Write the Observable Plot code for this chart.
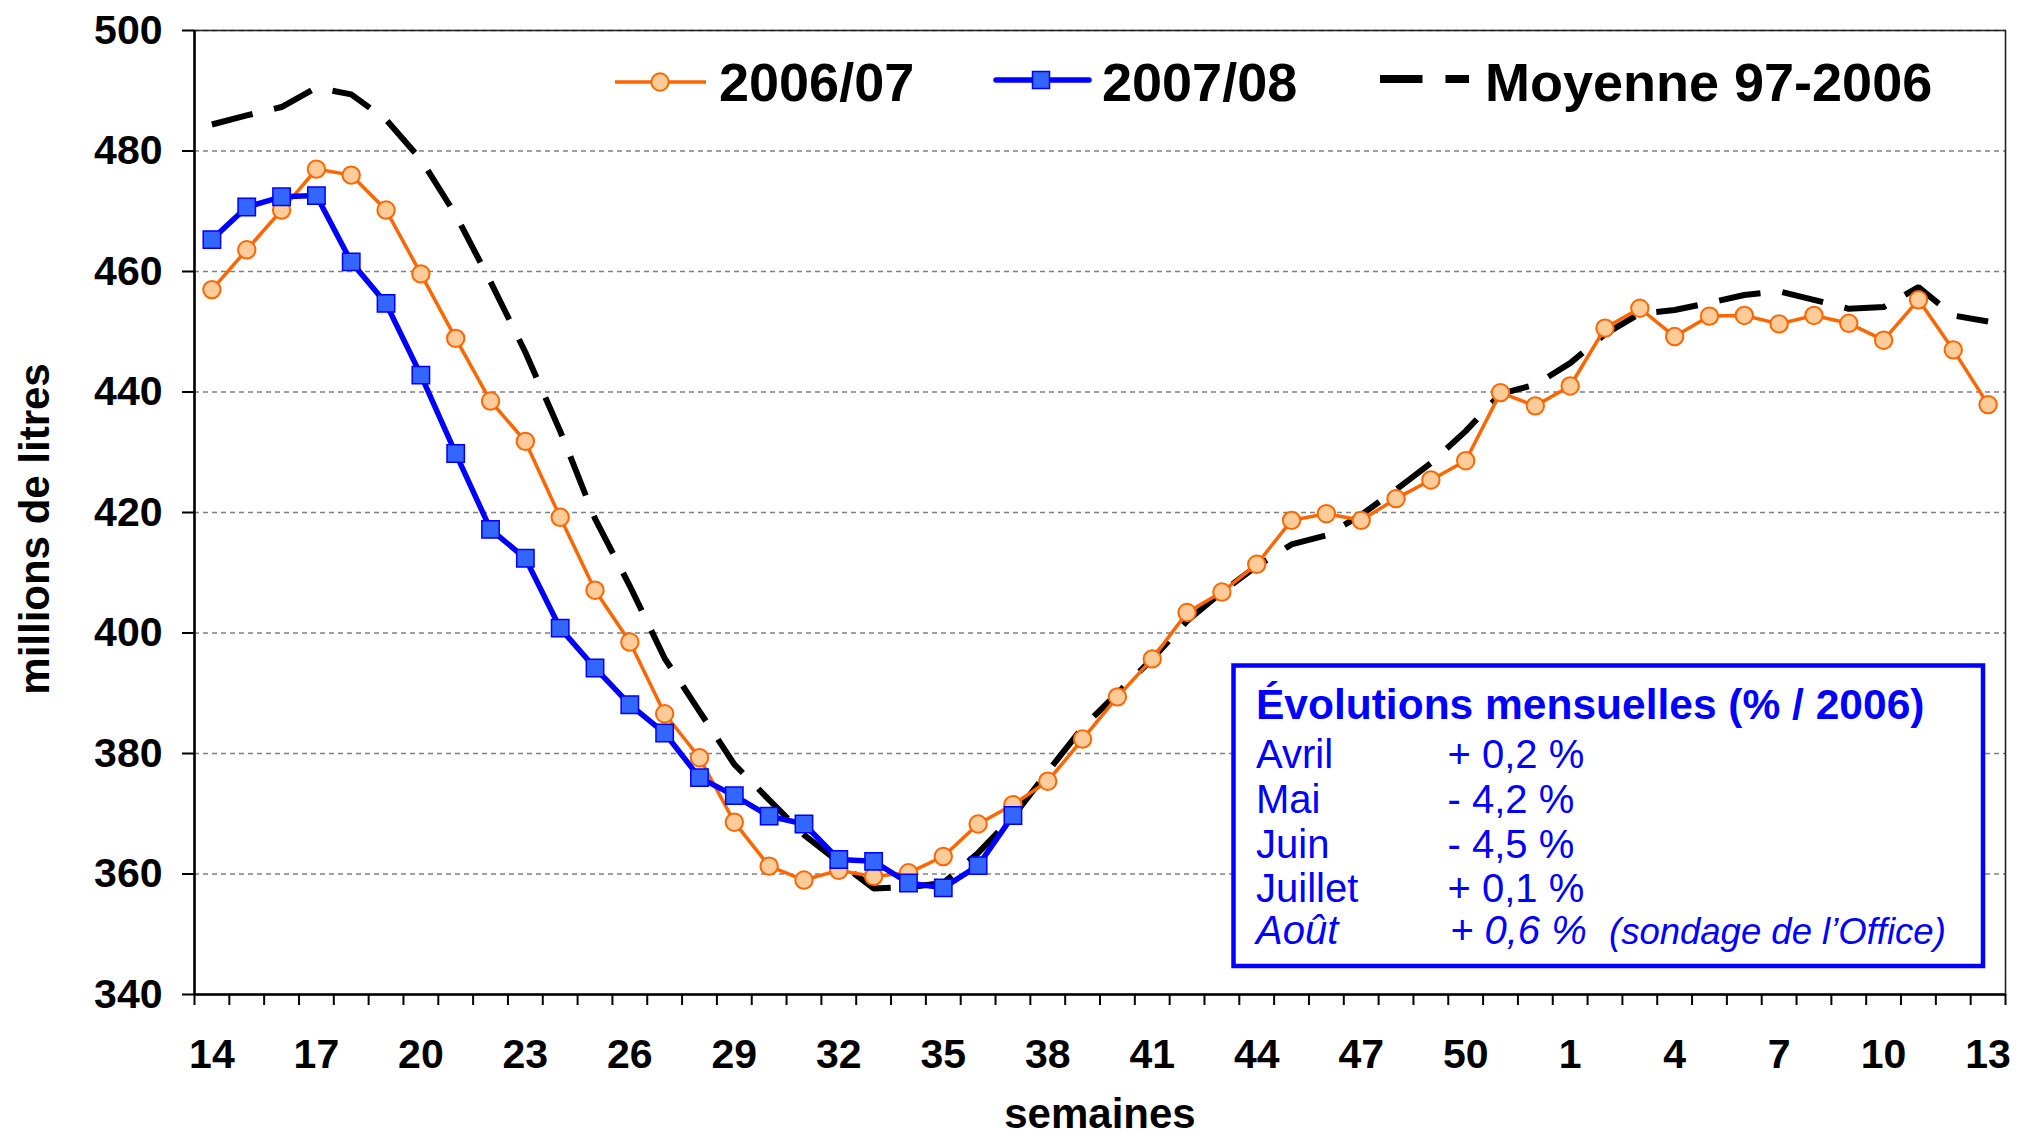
<!DOCTYPE html>
<html><head><meta charset="utf-8">
<script src="https://cdn.jsdelivr.net/npm/d3@7"></script>
<script src="https://cdn.jsdelivr.net/npm/@observablehq/plot@0.6"></script>
<style>
html,body{margin:0;padding:0;background:#fff;}
#chart{position:relative;width:2017px;height:1134px;}
</style></head><body><div id="chart"></div>
<script>
// ---- data ----
const weeks = [14,15,16,17,18,19,20,21,22,23,24,25,26,27,28,29,30,31,32,33,34,35,36,37,38,39,40,41,42,43,44,45,46,47,48,49,50,51,52,1,2,3,4,5,6,7,8,9,10,11,12,13];
const s0607 = [457.0,463.6,470.2,477.0,476.0,470.2,459.6,448.9,438.5,431.8,419.2,407.1,398.5,386.6,379.3,368.6,361.3,359.0,360.6,359.6,360.2,362.9,368.3,371.5,375.4,382.4,389.4,395.7,403.4,406.8,411.4,418.7,419.8,418.7,422.3,425.4,428.6,439.9,437.7,441.0,450.6,453.9,449.2,452.6,452.7,451.3,452.7,451.4,448.6,455.3,447.0,437.9];
const s0708 = [465.3,470.7,472.4,472.6,461.6,454.7,442.8,429.8,417.2,412.4,400.8,394.2,388.1,383.4,376.0,373.0,369.6,368.3,362.4,362.1,358.5,357.7,361.4,369.7];
const moyenne = [484.4,485.9,487.3,490.5,489.4,485.2,478.6,469.4,458.3,446.6,433.5,419.0,407.8,395.8,387.0,378.2,372.3,366.5,362.0,357.6,357.8,358.5,363.5,369.5,377.0,384.3,390.0,395.7,402.0,406.8,411.1,414.7,416.2,419.6,423.8,428.2,433.5,439.7,441.2,444.8,449.6,453.0,453.6,454.8,456.1,456.7,455.3,453.8,454.1,457.4,452.7,451.7];
const seriesNames = ["2006/07","2007/08","Moyenne 97-2006"];
const yTicks = [340,360,380,400,420,440,460,480,500];
const xLabelIdx = [0,3,6,9,12,15,18,21,24,27,30,33,36,39,42,45,48,51];
const boxTitle = "Évolutions mensuelles (% / 2006)";
const months = ["Avril","Mai","Juin","Juillet","Août"];
const monthValues = ["+ 0,2 %","- 4,2 %","- 4,5 %","+ 0,1 %","+ 0,6 %"];
const aoutNote = "(sondage de l’Office)";
const xTitle = "semaines";
const yTitle = "millions de litres";

// ---- tables ----
const toRows = arr => arr.map((v, i) => ({i, week: weeks[i], v}));
const d0607 = toRows(s0607), d0708 = toRows(s0708), dMoy = toRows(moyenne);
const boundaries = d3.range(weeks.length + 1).map(k => k - 0.5);

const FONT = '"Liberation Sans", Arial, Helvetica, sans-serif';
const W = 2017, H = 1134;

const svg = Plot.plot({
  width: W, height: H,
  marginLeft: 194, marginRight: 12, marginTop: 30, marginBottom: 140,
  style: {fontFamily: FONT, background: "white", overflow: "visible", color: "black"},
  x: {domain: [-0.5, weeks.length - 0.5]},
  y: {domain: [340, 500]},
  marks: [
    Plot.gridY(yTicks.filter(t => t > 340), {stroke: "#808080", strokeOpacity: 1, strokeWidth: 1.7, strokeDasharray: "5,4"}),
    Plot.frame({stroke: "#222", strokeWidth: 1.6}),
    Plot.line(dMoy, {x: "i", y: "v", stroke: "black", strokeWidth: 6, strokeDasharray: "42,22", strokeLinecap: "butt", strokeLinejoin: "miter"}),
    Plot.line(d0607, {x: "i", y: "v", stroke: "#FF6600", strokeWidth: 3.5}),
    Plot.dot(d0607, {x: "i", y: "v", r: 8.7, fill: "#FFCC99", stroke: "#FF6600", strokeWidth: 2}),
    Plot.line(d0708, {x: "i", y: "v", stroke: "#0000FF", strokeWidth: 5.5}),
    Plot.dot(d0708, {x: "i", y: "v", symbol: "square", r: 9.8, fill: "#3366FF", stroke: "#0000FF", strokeWidth: 1.5}),
    Plot.axisY({ticks: yTicks, tickSize: 12, tickPadding: 20, strokeWidth: 2, tickFormat: d => String(d), fontSize: 41, fontWeight: "bold", label: null}),
    Plot.axisX({ticks: boundaries, tickSize: 11, strokeWidth: 2, tickFormat: () => "", label: null}),
    Plot.axisX({ticks: xLabelIdx, tickSize: 0, tickPadding: 44, tickFormat: i => String(weeks[i]), fontSize: 41, fontWeight: "bold", label: null}),
    Plot.ruleX([-0.5], {stroke: "black", strokeWidth: 2.5}),
    Plot.ruleY([340], {stroke: "black", strokeWidth: 2.5})
  ]
});
document.getElementById("chart").appendChild(svg);

// ---- titles, legend, text box ----
const g = d3.select(svg).append("g").attr("font-family", FONT).attr("text-anchor", "start");
g.append("text").attr("transform", "translate(49,529) rotate(-90)").attr("text-anchor", "middle")
  .attr("font-size", 42).attr("font-weight", "bold").attr("fill", "black").text(yTitle);
g.append("text").attr("x", 1100).attr("y", 1128).attr("text-anchor", "middle")
  .attr("font-size", 42).attr("font-weight", "bold").attr("fill", "black").text(xTitle);

// legend
const lg = g.append("g");
lg.append("line").attr("x1", 615).attr("x2", 706).attr("y1", 82).attr("y2", 82).attr("stroke", "#FF6600").attr("stroke-width", 3.5);
lg.append("circle").attr("cx", 660).attr("cy", 82).attr("r", 8.7).attr("fill", "#FFCC99").attr("stroke", "#FF6600").attr("stroke-width", 2);
lg.append("text").attr("x", 719).attr("y", 100.5).attr("font-size", 54).attr("font-weight", "bold").text(seriesNames[0]);
lg.append("line").attr("x1", 996).attr("x2", 1089).attr("y1", 80).attr("y2", 80).attr("stroke", "#0000FF").attr("stroke-width", 5.5).attr("stroke-linecap", "round");
lg.append("rect").attr("x", 1032.5).attr("y", 71.5).attr("width", 17).attr("height", 17).attr("fill", "#3366FF").attr("stroke", "#0000FF").attr("stroke-width", 1.5);
lg.append("text").attr("x", 1102).attr("y", 100.5).attr("font-size", 54).attr("font-weight", "bold").text(seriesNames[1]);
lg.append("line").attr("x1", 1380).attr("x2", 1469).attr("y1", 79).attr("y2", 79).attr("stroke", "black").attr("stroke-width", 8).attr("stroke-dasharray", "42.5,23");
lg.append("text").attr("x", 1485).attr("y", 100.5).attr("font-size", 54).attr("font-weight", "bold").text(seriesNames[2]);

// text box
const bx = g.append("g");
bx.append("rect").attr("x", 1233.5).attr("y", 665.5).attr("width", 749.5).attr("height", 300.5)
  .attr("fill", "white").attr("stroke", "#0000FF").attr("stroke-width", 4.5);
bx.append("text").attr("x", 1256).attr("y", 719).attr("font-size", 42.5).attr("font-weight", "bold").attr("fill", "#0000FF").text(boxTitle);
const baselines = [768, 813, 857.5, 901.5, 944];
months.forEach((m, k) => {
  const it = k === 4;
  bx.append("text").attr("x", 1256).attr("y", baselines[k]).attr("font-size", 40).attr("fill", "#0000FF")
    .attr("font-style", it ? "italic" : null).text(m);
  bx.append("text").attr("x", it ? 1450 : 1447.5).attr("y", baselines[k]).attr("font-size", 40).attr("fill", "#0000FF")
    .attr("font-style", it ? "italic" : null).text(monthValues[k]);
});
bx.append("text").attr("x", 1609).attr("y", baselines[4]).attr("font-size", 36.5).attr("font-style", "italic").attr("fill", "#0000FF").text(aoutNote);
</script>
</body></html>
